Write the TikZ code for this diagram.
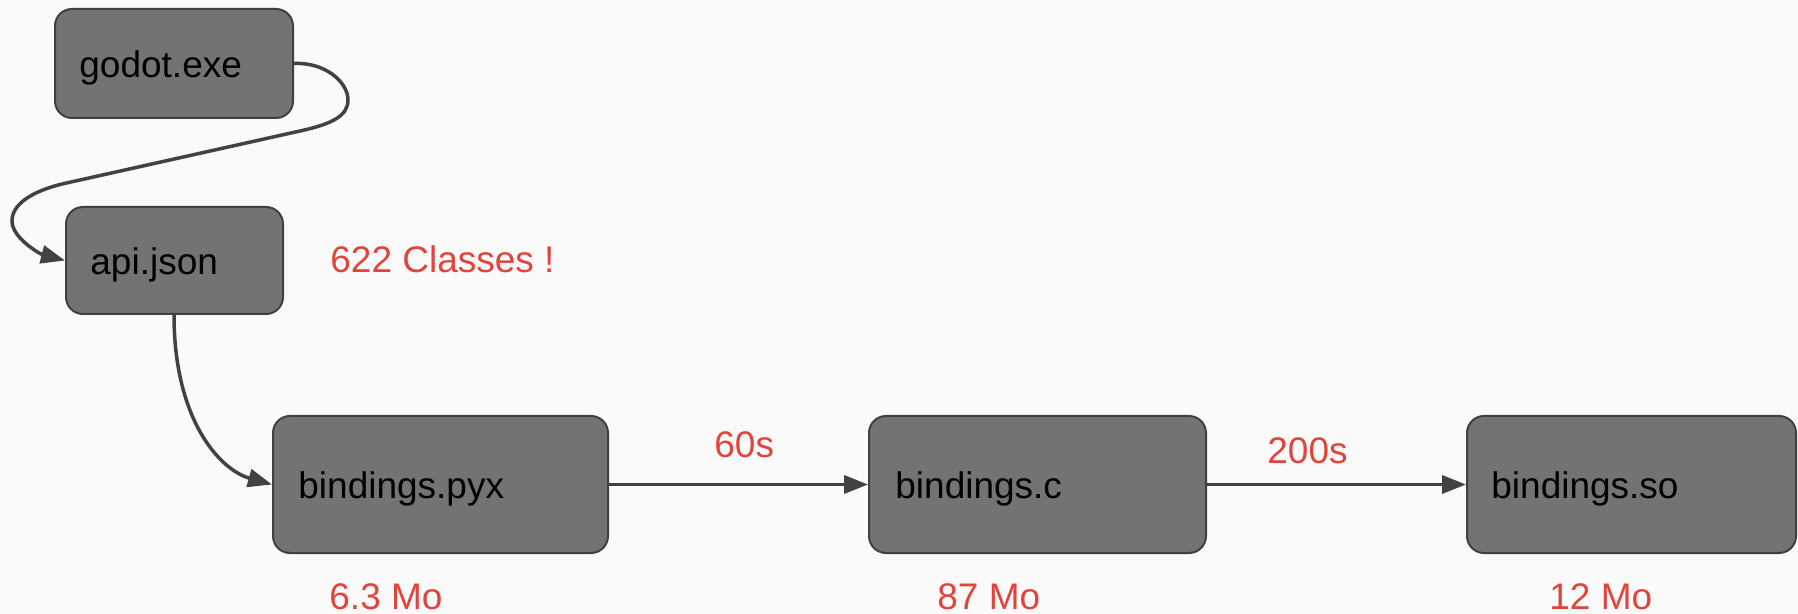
\documentclass[tikz,border=0pt]{standalone}
\usepackage{fontspec}
\setmainfont{Liberation Sans}
\usetikzlibrary{arrows.meta}

\definecolor{bgcol}{HTML}{FAFAFA}
\definecolor{boxfill}{HTML}{737373}
\definecolor{boxline}{HTML}{404040}
\definecolor{linkcol}{HTML}{424242}
\definecolor{notecol}{HTML}{E0443A}

\tikzset{
  filebox/.style={draw=boxline, fill=boxfill, line width=1pt, rounded corners=8.5pt,
                  inner sep=0pt},
  filename/.style={anchor=base west, inner sep=0pt, text=black,
                   font=\fontsize{18.5}{22}\selectfont},
  note/.style={anchor=base west, inner sep=0pt, text=notecol,
               font=\fontsize{18.5}{22}\selectfont},
  link/.style={draw=linkcol, line width=1.75pt,
               -{Triangle[length=12pt, width=9pt]}},
}

\begin{document}
\begin{tikzpicture}[x=0.5pt, y=-0.5pt]
  \useasboundingbox (0,0) rectangle (1798,614);
  \fill[bgcol] (0,0) rectangle (1798,614);

  % file boxes
  \node[filebox, minimum width=119pt,   minimum height=54.5pt] (godot) at (174,63.5) {};
  \node[filebox, minimum width=108.5pt, minimum height=53.5pt] (api)   at (174.5,260.5) {};
  \node[filebox, minimum width=167.5pt, minimum height=68.5pt] (pyx)   at (440.5,484.5) {};
  \node[filebox, minimum width=168.5pt, minimum height=68.5pt] (cfile) at (1037.5,484.5) {};
  \node[filebox, minimum width=164.5pt, minimum height=68.5pt] (sofile) at (1631.5,484.5) {};

  % file names
  \node[filename] (godotname) at (79,78)   {godot.exe};
  \node[filename] (apiname)   at (90,275)  {api.json};
  \node[filename] (pyxname)   at (298,498) {bindings.pyx};
  \node[filename] (cname)     at (895,498) {bindings.c};
  \node[filename] (soname)    at (1491,498) {bindings.so};

  % annotations
  \node[note] (classes) at (330,273)  {622 Classes !};
  \node[note] (t60)     at (714,458)  {60s};
  \node[note] (t200)    at (1267,463) {200s};
  \node[note] (s63)     at (329,609)  {6.3 Mo};
  \node[note] (s87)     at (937,609)  {87 Mo};
  \node[note] (s12)     at (1549,609) {12 Mo};

  % connectors
  \draw[link] (godot.east) .. controls (325,62) and (348,82) .. (348,100)
              .. controls (348,116) and (332,124) .. (300,131)
              -- (62,184)
              .. controls (30,192) and (12,205) .. (12,221)
              .. controls (12,238) and (40,254) .. (api.west);
  \draw[link] (api.south) ++(-0.5,0) .. controls (174,420) and (220,470) .. (pyx.west);
  \draw[link] (pyx.east) -- (cfile.west);
  \draw[link] (cfile.east) -- (sofile.west);
\end{tikzpicture}
\end{document}
